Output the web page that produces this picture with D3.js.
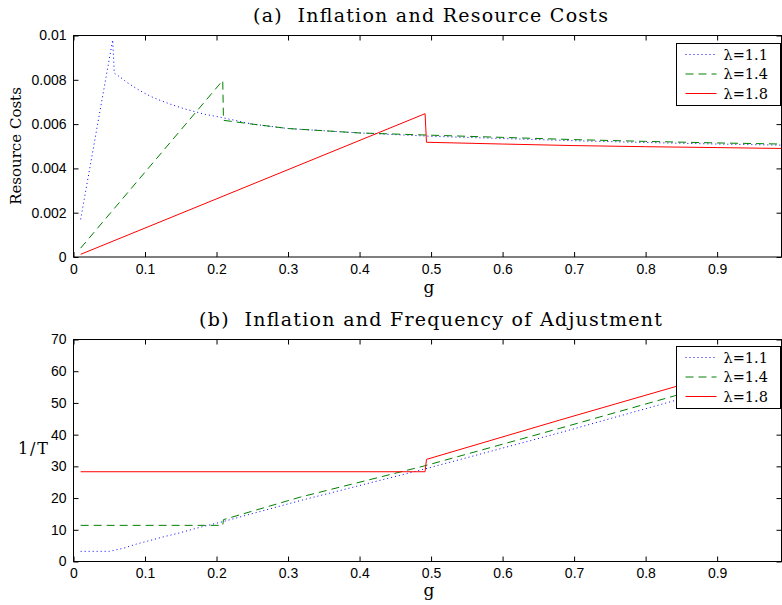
<!DOCTYPE html>
<html>
<head>
<meta charset="utf-8">
<script src="https://cdn.jsdelivr.net/npm/d3@7"></script>
<style>
  body { margin: 0; background: #fff; }
  svg { display: block; }
  .tick text { font-family: "Liberation Sans", Arial, sans-serif; font-size: 14px; fill: #000; }
  .lbl { font-family: "DejaVu Serif", serif; fill: #000; white-space: pre; }
</style>
</head>
<body>
<svg id="chart" width="782" height="605"></svg>
<script>
// ---- data ----
const xTicks = [0, 0.1, 0.2, 0.3, 0.4, 0.5, 0.6, 0.7, 0.8, 0.9]
const xTickLabels = ['0', '0.1', '0.2', '0.3', '0.4', '0.5', '0.6', '0.7', '0.8', '0.9']
const costTicks = [0, 0.002, 0.004, 0.006, 0.008, 0.01]
const costTickLabels = ['0', '0.002', '0.004', '0.006', '0.008', '0.01']
const freqTicks = [0, 10, 20, 30, 40, 50, 60, 70]
const freqTickLabels = ['0', '10', '20', '30', '40', '50', '60', '70']
const lambdas = ['λ=1.1', 'λ=1.4', 'λ=1.8']

// panel (a): resource costs, [g, value]
const cost11 = [
  [0.01, 0.0017], [0.0548, 0.0098], [0.057, 0.0083], [0.066, 0.0081], [0.074, 0.0079],
  [0.082, 0.00773], [0.091, 0.00755], [0.099, 0.0074], [0.108, 0.00725], [0.119, 0.0071],
  [0.137, 0.00688], [0.156, 0.00668], [0.184, 0.00644], [0.207, 0.0063], [0.25, 0.0060],
  [0.3, 0.0058], [0.4, 0.0056], [0.5, 0.00545], [0.6, 0.00535], [0.7, 0.00525],
  [0.8, 0.00517], [0.9, 0.0051], [0.99, 0.00505]
]
const cost14 = [
  [0.01, 0.0004], [0.2087, 0.00797], [0.2097, 0.00617], [0.25, 0.0060], [0.3, 0.0058],
  [0.4, 0.0056], [0.5, 0.0055], [0.6, 0.0054], [0.7, 0.0053], [0.8, 0.00522],
  [0.9, 0.00515], [0.99, 0.0051]
]
const cost18 = [
  [0.01, 0.00012], [0.4916, 0.00647], [0.4936, 0.00518], [0.6, 0.0051], [0.7, 0.00503],
  [0.8, 0.00498], [0.9, 0.00494], [0.99, 0.0049]
]

// panel (b): frequency of adjustment 1/T, [g, value]
const freq11 = [
  [0.01, 3.2], [0.05, 3.2], [0.06, 3.7], [0.07, 4.2], [0.088, 5.5], [0.108, 6.7],
  [0.128, 7.9], [0.148, 9.0], [0.167, 10.2], [0.186, 11.3], [0.206, 12.4],
  [0.2175, 13.1], [0.317, 19.2], [0.49, 29.1], [0.68, 40.6], [0.84, 50.7], [0.99, 59.7]
]
const freq14 = [
  [0.01, 11.4], [0.2087, 11.4], [0.2097, 13.2], [0.317, 20.3], [0.49, 30.1],
  [0.68, 42.0], [0.84, 52.2], [0.99, 61.3]
]
const freq18 = [
  [0.01, 28.3], [0.4916, 28.3], [0.4936, 32.2], [0.68, 44.6], [0.841, 55.1], [0.99, 64.9]
]

// ---- drawing ----
const svg = d3.select('#chart')
const left = 73.5
const right = 781.5
const styles = [
  { color: '#0000ff', dash: '1,3' },
  { color: '#008000', dash: '8,5' },
  { color: '#ff0000', dash: null },
]

function drawPanel({ top, bottom, yDomain, yTicks, yTickLabels, series, title, titleX, titleW, titleY, xLabelY, legendTop }) {
  const x = d3.scaleLinear().domain([0, 0.99]).range([left, right])
  const y = d3.scaleLinear().domain(yDomain).range([bottom, top])
  const g = svg.append('g')

  const tickFmt = (labels, ticks) => (d) => labels[ticks.indexOf(d)]

  g.append('g')
    .attr('transform', `translate(0,${bottom})`)
    .call(d3.axisBottom(x).tickValues(xTicks).tickFormat(tickFmt(xTickLabels, xTicks))
      .tickSizeInner(-5).tickSizeOuter(0).tickPadding(7))
  g.append('g')
    .attr('transform', `translate(0,${top})`)
    .call(d3.axisTop(x).tickValues(xTicks).tickFormat('').tickSizeInner(-5).tickSizeOuter(0))
  g.append('g')
    .attr('transform', `translate(${left},0)`)
    .call(d3.axisLeft(y).tickValues(yTicks).tickFormat(tickFmt(yTickLabels, yTicks))
      .tickSizeInner(-5).tickSizeOuter(0).tickPadding(7))
  g.append('g')
    .attr('transform', `translate(${right},0)`)
    .call(d3.axisRight(y).tickValues(yTicks).tickFormat('').tickSizeInner(-5).tickSizeOuter(0))
  g.selectAll('.domain').remove()
  g.selectAll('.tick line').attr('stroke', '#000')

  const line = d3.line().x((d) => x(d[0])).y((d) => y(d[1]))
  series.forEach((s, i) => {
    g.append('path')
      .datum(s)
      .attr('fill', 'none')
      .attr('stroke', styles[i].color)
      .attr('stroke-width', 1)
      .attr('stroke-dasharray', styles[i].dash)
      .attr('d', line)
  })

  g.append('rect')
    .attr('x', left).attr('y', top)
    .attr('width', right - left).attr('height', bottom - top)
    .attr('fill', 'none').attr('stroke', '#000').attr('stroke-width', 1)

  // legend
  const lg = g.append('g').attr('transform', `translate(676.5,${legendTop})`)
  lg.append('rect')
    .attr('width', 104).attr('height', 62)
    .attr('fill', '#fff').attr('stroke', '#000')
  lambdas.forEach((name, i) => {
    const ly = 11 + i * 19.5
    lg.append('line')
      .attr('x1', 9).attr('x2', 40).attr('y1', ly).attr('y2', ly)
      .attr('stroke', styles[i].color)
      .attr('stroke-dasharray', styles[i].dash)
    lg.append('text')
      .attr('class', 'lbl')
      .attr('x', 47).attr('y', ly + 5)
      .attr('font-size', 14.5)
      .text(name)
  })

  g.append('text')
    .attr('class', 'lbl')
    .attr('x', titleX).attr('y', titleY)
    .attr('font-size', 19)
    .attr('textLength', titleW)
    .attr('lengthAdjust', 'spacing')
    .text(title)

  g.append('text')
    .attr('class', 'lbl')
    .attr('x', 429).attr('y', xLabelY)
    .attr('text-anchor', 'middle')
    .attr('font-size', 17)
    .text('g')
  return g
}

drawPanel({
  top: 35.5, bottom: 257, yDomain: [0, 0.01],
  yTicks: costTicks, yTickLabels: costTickLabels,
  series: [cost11, cost14, cost18],
  title: '(a)  Inflation and Resource Costs', titleX: 253, titleW: 355, titleY: 22,
  xLabelY: 293, legendTop: 43.5,
})
drawPanel({
  top: 339.5, bottom: 561.5, yDomain: [0, 70],
  yTicks: freqTicks, yTickLabels: freqTickLabels,
  series: [freq11, freq14, freq18],
  title: '(b)  Inflation and Frequency of Adjustment', titleX: 199, titleW: 463, titleY: 326,
  xLabelY: 596, legendTop: 346.5,
})

svg.append('text')
  .attr('class', 'lbl')
  .attr('transform', 'translate(21,146) rotate(-90)')
  .attr('text-anchor', 'middle')
  .attr('font-size', 15)
  .text('Resource Costs')

svg.append('text')
  .attr('class', 'lbl')
  .attr('x', 18).attr('y', 454)
  .attr('font-size', 16)
  .attr('textLength', 30)
  .attr('lengthAdjust', 'spacing')
  .text('1/T')
</script>
</body>
</html>
